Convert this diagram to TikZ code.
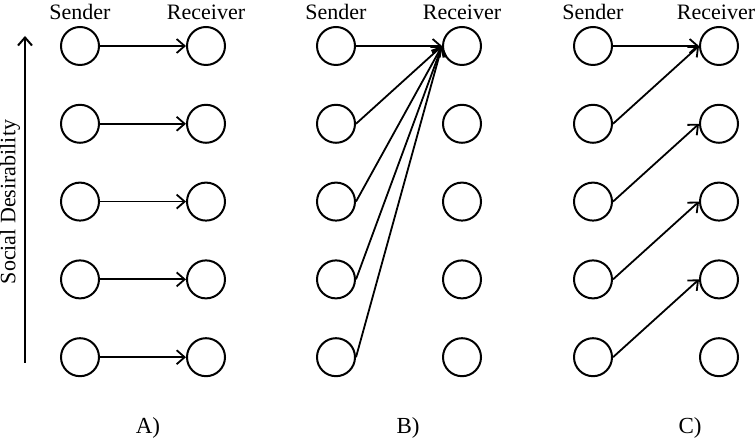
\documentclass[tikz,border=0pt]{standalone}
\usepackage{fontspec}
\setmainfont{Liberation Serif}
\usepackage{tikz}
\usetikzlibrary{positioning,arrows,arrows.meta}
\tikzstyle{arrow} = [line width=0.9pt,->,>={Straight Barb[length=4pt,width=7pt]}]
\tikzstyle{axis} = [line width=1pt,->,>={Straight Barb[length=4pt,width=7pt]}]

\begin{document}
\begin{tikzpicture}[x=0.5pt, y=-0.5pt]
\tikzset{%
	agent/.style = { circle, draw=black, line width=1pt, minimum size=19pt, inner sep=0pt },
	head/.style = { font=\fontsize{11}{13}\selectfont, inner sep=0pt },
	panel/.style = { font=\fontsize{11.5}{13}\selectfont, inner sep=0pt },
	node distance=38.9pt and 63pt, on grid
}
\useasboundingbox (0,0) rectangle (755,442);

% A) every sender reaches its own receiver
\node(SA1)			[agent] at (80,46) {};
\node(SA2)			[agent, below=of SA1] {};
\node(SA3)			[agent, below=of SA2] {};
\node(SA4)			[agent, below=of SA3] {};
\node(SA5)			[agent, below=of SA4] {};
\node(RA1)			[agent, right=of SA1] {};
\node(RA2)			[agent, right=of SA2] {};
\node(RA3)			[agent, right=of SA3] {};
\node(RA4)			[agent, right=of SA4] {};
\node(RA5)			[agent, right=of SA5] {};

% B) every sender aims at the top receiver
\node(SB1)			[agent] at (336,46) {};
\node(SB2)			[agent, below=of SB1] {};
\node(SB3)			[agent, below=of SB2] {};
\node(SB4)			[agent, below=of SB3] {};
\node(SB5)			[agent, below=of SB4] {};
\node(RB1)			[agent, right=of SB1] {};
\node(RB2)			[agent, right=of SB2] {};
\node(RB3)			[agent, right=of SB3] {};
\node(RB4)			[agent, right=of SB4] {};
\node(RB5)			[agent, right=of SB5] {};

% C) every sender aims one step up
\node(SC1)			[agent] at (593,46) {};
\node(SC2)			[agent, below=of SC1] {};
\node(SC3)			[agent, below=of SC2] {};
\node(SC4)			[agent, below=of SC3] {};
\node(SC5)			[agent, below=of SC4] {};
\node(RC1)			[agent, right=of SC1] {};
\node(RC2)			[agent, right=of SC2] {};
\node(RC3)			[agent, right=of SC3] {};
\node(RC4)			[agent, right=of SC4] {};
\node(RC5)			[agent, right=of SC5] {};

\node(SenderA)		[head, above=17pt of SA1] {Sender};
\node(ReceiverA)	[head, above=17pt of RA1] {Receiver};
\node(SenderB)		[head, above=17pt of SB1] {Sender};
\node(ReceiverB)	[head, above=17pt of RB1] {Receiver};
\node(SenderC)		[head, above=17pt of SC1] {Sender};
\node(ReceiverC)	[head, above=17pt of RC1, xshift=-1.5pt] {Receiver};

\node(LabelA)		[panel] at (148,428) {A)};
\node(LabelB)		[panel] at (408,428) {B)};
\node(LabelC)		[panel] at (690,428) {C)};

\coordinate(AxisLow)	at (25,363);
\coordinate(AxisHigh)	at (25,36);
\node(AxisName)		[head, rotate=90] at (10,202) {Social Desirability};

\draw [axis]	(AxisLow) -- (AxisHigh);

\draw [arrow]	(SA1.east) -- (RA1.west);
\draw [arrow]	(SA2.east) -- (RA2.west);
\draw [arrow]	(SA3.east) -- (RA3.west);
\draw [arrow]	(SA4.east) -- (RA4.west);
\draw [arrow]	(SA5.east) -- (RA5.west);

\draw [arrow]	(SB1.east) -- (RB1.west);
\draw [arrow]	(SB2.east) -- (RB1.west);
\draw [arrow]	(SB3.east) -- (RB1.west);
\draw [arrow]	(SB4.east) -- (RB1.west);
\draw [arrow]	(SB5.east) -- (RB1.west);

\draw [arrow]	(SC1.east) -- (RC1.west);
\draw [arrow]	(SC2.east) -- (RC1.west);
\draw [arrow]	(SC3.east) -- (RC2.west);
\draw [arrow]	(SC4.east) -- (RC3.west);
\draw [arrow]	(SC5.east) -- (RC4.west);

\end{tikzpicture}
\end{document}
